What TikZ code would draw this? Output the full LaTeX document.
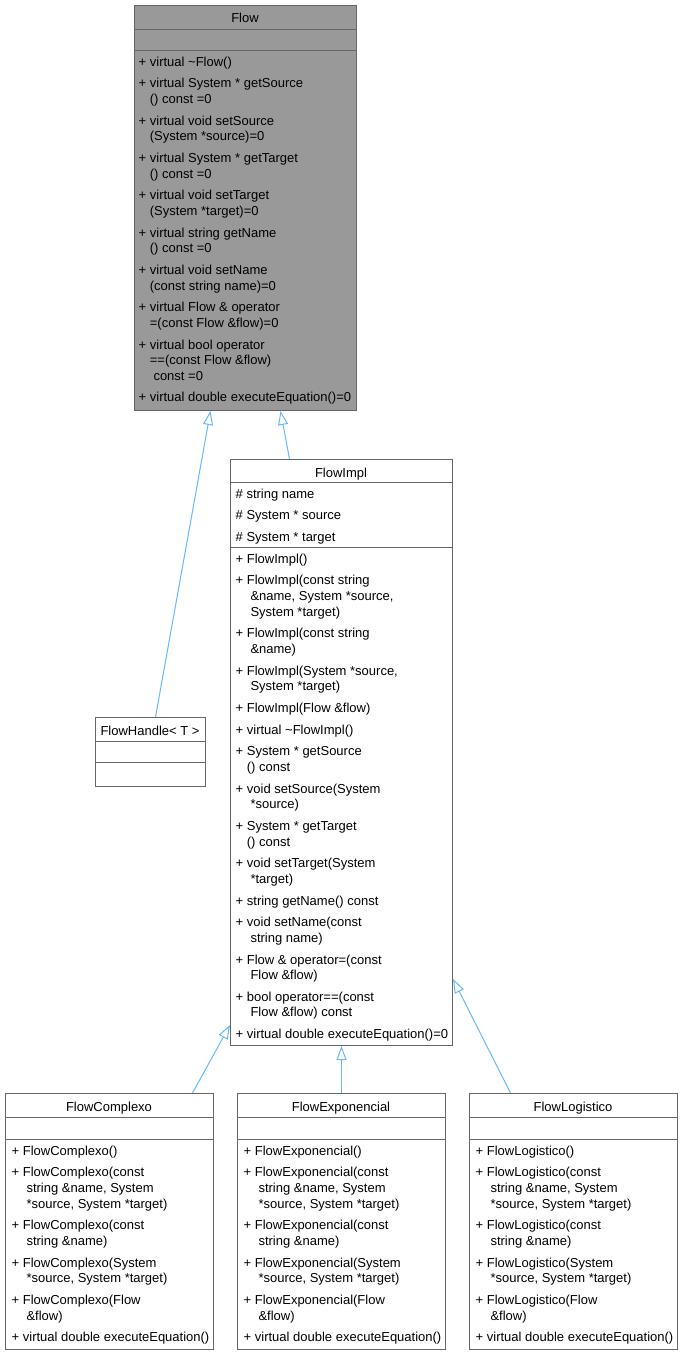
\documentclass[tikz,border=0pt]{standalone}
\usepackage{fontspec}
\setmainfont{Liberation Sans}
\usetikzlibrary{arrows.meta}

\definecolor{edgegray}{HTML}{666666}
\definecolor{flowgray}{HTML}{999999}
\definecolor{edgeblue}{HTML}{63B8FF}

\newcommand{\umlfont}{\fontsize{13}{15.6}\selectfont}
\newcommand{\contind}{\hphantom{+\ }}

\begin{document}
\begin{tikzpicture}[x=1pt,y=-1pt,
    classbox/.style={draw=edgegray, line width=1pt, fill=white, inner sep=0pt, anchor=north west},
    sepline/.style={draw=edgegray, line width=1pt},
    title/.style={anchor=base, inner sep=0pt, font=\umlfont},
    member/.style={anchor=north west, inner sep=0pt, align=left, font=\umlfont},
    inherit/.style={draw=edgeblue, line width=1pt, -{Triangle[open, length=14pt, width=10pt]}}]
        \useasboundingbox (0,0) rectangle (683,1355);

        % =========================================================
        % Basisklasse Flow (grau hinterlegt)
        % =========================================================

        \node[classbox, fill=flowgray, minimum width=222pt, minimum height=405pt] (flow) at (134,5) {};
        \draw[sepline] (134,29) -- (356,29);
        \draw[sepline] (134,50) -- (356,50);

        \node[title] (flowTitle) at (245,22.5) {Flow};

        \node[member] (flowOps) at (138.5,55.1) {\strut + virtual \textasciitilde Flow()\\[6.1pt]%
+ virtual System * getSource\\%
\contind() const =0\\[6.1pt]%
+ virtual void setSource\\%
\contind(System *source)=0\\[6.1pt]%
+ virtual System * getTarget\\%
\contind() const =0\\[6.1pt]%
+ virtual void setTarget\\%
\contind(System *target)=0\\[6.1pt]%
+ virtual string getName\\%
\contind() const =0\\[6.1pt]%
+ virtual void setName\\%
\contind(const string name)=0\\[6.1pt]%
+ virtual Flow \& operator\\%
\contind=(const Flow \&flow)=0\\[6.1pt]%
+ virtual bool operator\\%
\contind==(const Flow \&flow)\\%
\contind\ const =0\\[6.1pt]%
+ virtual double executeEquation()=0};

        % =========================================================
        % FlowImpl
        % =========================================================

        \node[classbox, minimum width=222pt, minimum height=586pt] (impl) at (230,459) {};
        \draw[sepline] (230,482.5) -- (452,482.5);
        \draw[sepline] (230,547) -- (452,547);

        \node[title] (implTitle) at (341,477) {FlowImpl};

        \node[member] (implAttr) at (235.5,487.1) {\strut \# string name\\[6.1pt]%
\# System * source\\[6.1pt]%
\# System * target};

        \node[member] (implOps) at (235.5,552.1) {\strut + FlowImpl()\\[6.1pt]%
+ FlowImpl(const string\\%
\contind\ \&name, System *source,\\%
\contind\ System *target)\\[6.1pt]%
+ FlowImpl(const string\\%
\contind\ \&name)\\[6.1pt]%
+ FlowImpl(System *source,\\%
\contind\ System *target)\\[6.1pt]%
+ FlowImpl(Flow \&flow)\\[6.1pt]%
+ virtual \textasciitilde FlowImpl()\\[6.1pt]%
+ System * getSource\\%
\contind() const\\[6.1pt]%
+ void setSource(System\\%
\contind\ *source)\\[6.1pt]%
+ System * getTarget\\%
\contind() const\\[6.1pt]%
+ void setTarget(System\\%
\contind\ *target)\\[6.1pt]%
+ string getName() const\\[6.1pt]%
+ void setName(const\\%
\contind\ string name)\\[6.1pt]%
+ Flow \& operator=(const\\%
\contind\ Flow \&flow)\\[6.1pt]%
+ bool operator==(const\\%
\contind\ Flow \&flow) const\\[6.1pt]%
+ virtual double executeEquation()=0};

        % =========================================================
        % FlowHandle (Template, leer)
        % =========================================================

        \node[classbox, minimum width=110pt, minimum height=69pt] (handle) at (95,717) {};
        \draw[sepline] (95,741.5) -- (205,741.5);
        \draw[sepline] (95,762.5) -- (205,762.5);

        \node[title] (handleTitle) at (150,735) {FlowHandle< T >};

        % =========================================================
        % Abgeleitete Klassen unten
        % =========================================================

        % FlowComplexo
        \node[classbox, minimum width=208pt, minimum height=256pt] (cplx) at (5,1093) {};
        \draw[sepline] (5,1117) -- (213,1117);
        \draw[sepline] (5,1139) -- (213,1139);

        \node[title] (cplxTitle) at (109,1111) {FlowComplexo};

        \node[member] (cplxOps) at (11.5,1144.1) {\strut + FlowComplexo()\\[6.1pt]%
+ FlowComplexo(const\\%
\contind\ string \&name, System\\%
\contind\ *source, System *target)\\[6.1pt]%
+ FlowComplexo(const\\%
\contind\ string \&name)\\[6.1pt]%
+ FlowComplexo(System\\%
\contind\ *source, System *target)\\[6.1pt]%
+ FlowComplexo(Flow\\%
\contind\ \&flow)\\[6.1pt]%
+ virtual double executeEquation()};

        % FlowExponencial
        \node[classbox, minimum width=208pt, minimum height=256pt] (expo) at (237,1093) {};
        \draw[sepline] (237,1117) -- (445,1117);
        \draw[sepline] (237,1139) -- (445,1139);

        \node[title] (expoTitle) at (341,1111) {FlowExponencial};

        \node[member] (expoOps) at (243.5,1144.1) {\strut + FlowExponencial()\\[6.1pt]%
+ FlowExponencial(const\\%
\contind\ string \&name, System\\%
\contind\ *source, System *target)\\[6.1pt]%
+ FlowExponencial(const\\%
\contind\ string \&name)\\[6.1pt]%
+ FlowExponencial(System\\%
\contind\ *source, System *target)\\[6.1pt]%
+ FlowExponencial(Flow\\%
\contind\ \&flow)\\[6.1pt]%
+ virtual double executeEquation()};

        % FlowLogistico
        \node[classbox, minimum width=208pt, minimum height=256pt] (logi) at (469,1093) {};
        \draw[sepline] (469,1117) -- (677,1117);
        \draw[sepline] (469,1139) -- (677,1139);

        \node[title] (logiTitle) at (573,1111) {FlowLogistico};

        \node[member] (logiOps) at (475.5,1144.1) {\strut + FlowLogistico()\\[6.1pt]%
+ FlowLogistico(const\\%
\contind\ string \&name, System\\%
\contind\ *source, System *target)\\[6.1pt]%
+ FlowLogistico(const\\%
\contind\ string \&name)\\[6.1pt]%
+ FlowLogistico(System\\%
\contind\ *source, System *target)\\[6.1pt]%
+ FlowLogistico(Flow\\%
\contind\ \&flow)\\[6.1pt]%
+ virtual double executeEquation()};

        % =========================================================
        % Vererbungspfeile
        % =========================================================

        \draw[inherit] ([xshift=5pt]handle.north) -- ([xshift=-35pt]flow.south);
        \draw[inherit] ([xshift=-52pt]impl.north) -- ([xshift=35pt]flow.south);

        \draw[inherit] ([xshift=83pt]cplx.north) -- ([yshift=21pt]impl.south west);
        \draw[inherit] (expo.north) -- (impl.south);
        \draw[inherit] ([xshift=-63pt]logi.north) -- ([yshift=67pt]impl.south east);

    \end{tikzpicture}
\end{document}
